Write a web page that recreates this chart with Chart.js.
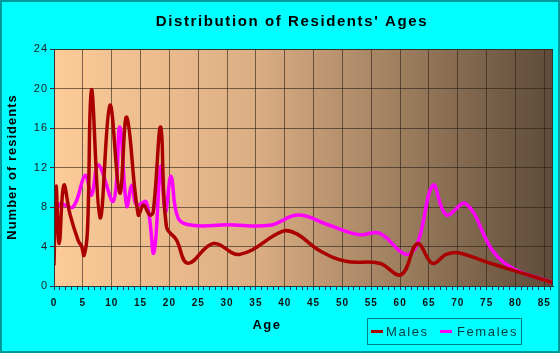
<!DOCTYPE html>
<html>
<head>
<meta charset="utf-8">
<script src="https://cdn.jsdelivr.net/npm/chart.js@4/dist/chart.umd.min.js"></script>
<style>
  html, body { margin: 0; padding: 0; background: #00ffff; }
  #wrap { width: 560px; height: 353px; }
</style>
</head>
<body>
<div id="wrap"><canvas id="myChart" width="560" height="353"></canvas></div>
<script>
// values
let maleAges = [0, 0.35, 0.9, 1.7, 2.8, 4.2, 4.8, 5.2, 5.8, 6.5, 8, 9.7, 11.4, 12.6, 14.6, 15.5, 16.6, 17.2, 18.5, 19.5, 21.2, 23.2, 27.6, 32.2, 39.7, 42, 46, 50.6, 56.4, 60.2, 63, 65.6, 68, 70.2, 74.9, 79.5, 86.4];
let maleValues = [2.1, 10.1, 4.3, 10.2, 7.2, 4.6, 4.0, 3.1, 5.6, 19.9, 6.9, 18.3, 9.4, 17.1, 7.2, 8.2, 7.2, 7.5, 16.1, 6.0, 4.7, 2.3, 4.3, 3.2, 5.55, 5.3, 3.6, 2.5, 2.3, 1.15, 4.3, 2.3, 3.2, 3.35, 2.45, 1.6, 0.35];

let femaleAges = [0, 1, 3.3, 5.4, 6.5, 7.7, 10.3, 11.4, 12.6, 13.5, 14.3, 16, 17.3, 18.5, 19.3, 20.3, 21.5, 24, 30, 37.4, 42.3, 47.5, 52.9, 56.4, 61, 63, 65.7, 68, 71.4, 76, 79.5, 86.4];
let femaleValues = [6.5, 8.3, 8.0, 11.2, 9.2, 12.25, 8.6, 16.1, 8.1, 10.2, 8.2, 8.5, 3.35, 12.1, 7.5, 11.1, 6.9, 6.15, 6.2, 6.15, 7.2, 6.2, 5.2, 5.35, 3.2, 4.3, 10.2, 7.2, 8.35, 3.6, 1.8, 0.35];

let yTicks = [0, 4, 8, 12, 16, 20, 24];

function toPoints(xs, ys) {
  return xs.map((x, i) => ({x: x, y: ys[i]}));
}

const FONT = '"Liberation Sans", Arial, sans-serif';

// peach -> brown fill behind the plot, frame, page border, titles and legend
const decor = {
  id: 'decor',
  beforeDraw(chart) {
    const {ctx, chartArea: a} = chart;
    ctx.save();
    ctx.fillStyle = '#00ffff';
    ctx.fillRect(0, 0, chart.width, chart.height);
    let g = ctx.createLinearGradient(a.left, 0, a.right, 0);
    g.addColorStop(0, '#fdcb98');
    g.addColorStop(0.4, '#dcae84');
    g.addColorStop(0.7, '#9c7d5e');
    g.addColorStop(1, '#5e4b39');
    ctx.fillStyle = g;
    ctx.fillRect(a.left, a.top, a.right - a.left, a.bottom - a.top);
    ctx.restore();
    // spaced-out tick labels
    ctx.letterSpacing = '1px';
  },
  afterDraw(chart) {
    const {ctx, chartArea: a} = chart;
    ctx.letterSpacing = '0px';
    ctx.save();
    ctx.strokeStyle = '#333';
    ctx.lineWidth = 1;
    ctx.strokeRect(a.left + 0.5, a.top + 0.5, a.right - a.left - 1, a.bottom - a.top);
    ctx.strokeStyle = '#009999';
    ctx.lineWidth = 2;
    ctx.strokeRect(1, 1, chart.width - 2, chart.height - 2);

    ctx.fillStyle = '#000';
    ctx.textAlign = 'center';
    ctx.textBaseline = 'middle';

    // chart title
    ctx.font = 'bold 15px ' + FONT;
    ctx.letterSpacing = '1.6px';
    ctx.fillText("Distribution of Residents' Ages", 292, 22);

    // axis titles
    ctx.font = 'bold 13px ' + FONT;
    ctx.letterSpacing = '1.5px';
    ctx.fillText('Age', 267, 325);
    ctx.save();
    ctx.translate(12, 167);
    ctx.rotate(-Math.PI / 2);
    ctx.letterSpacing = '1px';
    ctx.fillText('Number of residents', 0, 0);
    ctx.restore();

    // legend
    ctx.strokeStyle = '#008080';
    ctx.lineWidth = 1;
    ctx.strokeRect(367.5, 318.5, 154, 26);
    ctx.font = '13px ' + FONT;
    ctx.textAlign = 'left';
    ctx.letterSpacing = '1.6px';
    let items = [[371, 386], [440, 457]];
    chart.data.datasets.forEach((ds, i) => {
      ctx.fillStyle = ds.borderColor;
      ctx.fillRect(items[i][0], 330, 12, 3);
      ctx.fillStyle = '#003c3c';
      ctx.fillText(ds.label, items[i][1], 332);
    });
    ctx.restore();
  }
};

const ctx = document.getElementById('myChart').getContext('2d');
chart = new Chart(ctx, {
  type: 'scatter',
  data: {
    datasets: [{
      label: 'Males',
      data: toPoints(maleAges, maleValues),
      borderColor: '#aa0000',
      borderWidth: 3.5,
      showLine: true,
      pointRadius: 0,
      tension: 0.4,
      fill: false
    },
    {
      label: 'Females',
      data: toPoints(femaleAges, femaleValues),
      borderColor: '#ff00ff',
      borderWidth: 3.5,
      showLine: true,
      pointRadius: 0,
      tension: 0.4,
      fill: false
    }]
  },
  options: {
    animation: false,
    responsive: false,
    layout: { padding: { left: 0, right: 7, top: 49, bottom: 0 } },
    plugins: {
      legend: { display: false },
      tooltip: { enabled: false },
      title: { display: false }
    },
    scales: {
      x: {
        type: 'linear',
        min: 0,
        max: 86.5,
        afterBuildTicks(scale) {
          let t = [];
          for (let v = 0; v <= 86; v++) t.push({value: v});
          scale.ticks = t;
        },
        afterFit(scale) { scale.height = 67; },
        ticks: {
          autoSkip: false,
          maxRotation: 0,
          color: '#111',
          padding: 7,
          font: { family: FONT, size: 10, weight: 'bold' },
          callback: v => (v % 5 === 0 ? String(v) : '')
        },
        grid: {
          color: c => (c.tick && c.tick.value % 5 === 0 ? 'rgba(40,30,20,0.6)' : 'rgba(0,0,0,0)'),
          tickColor: '#335',
          tickLength: 4,
          lineWidth: 1
        },
        border: { color: '#333' }
      },
      y: {
        min: 0,
        max: 24,
        afterBuildTicks(scale) {
          scale.ticks = yTicks.map(v => ({value: v}));
        },
        afterFit(scale) { scale.width = 54; },
        ticks: {
          color: '#222',
          padding: 2,
          font: { family: FONT, size: 11 }
        },
        grid: {
          color: 'rgba(40,30,20,0.6)',
          tickColor: '#333',
          tickLength: 4
        },
        border: { color: '#333' }
      }
    }
  },
  plugins: [decor]
});
</script>
</body>
</html>
